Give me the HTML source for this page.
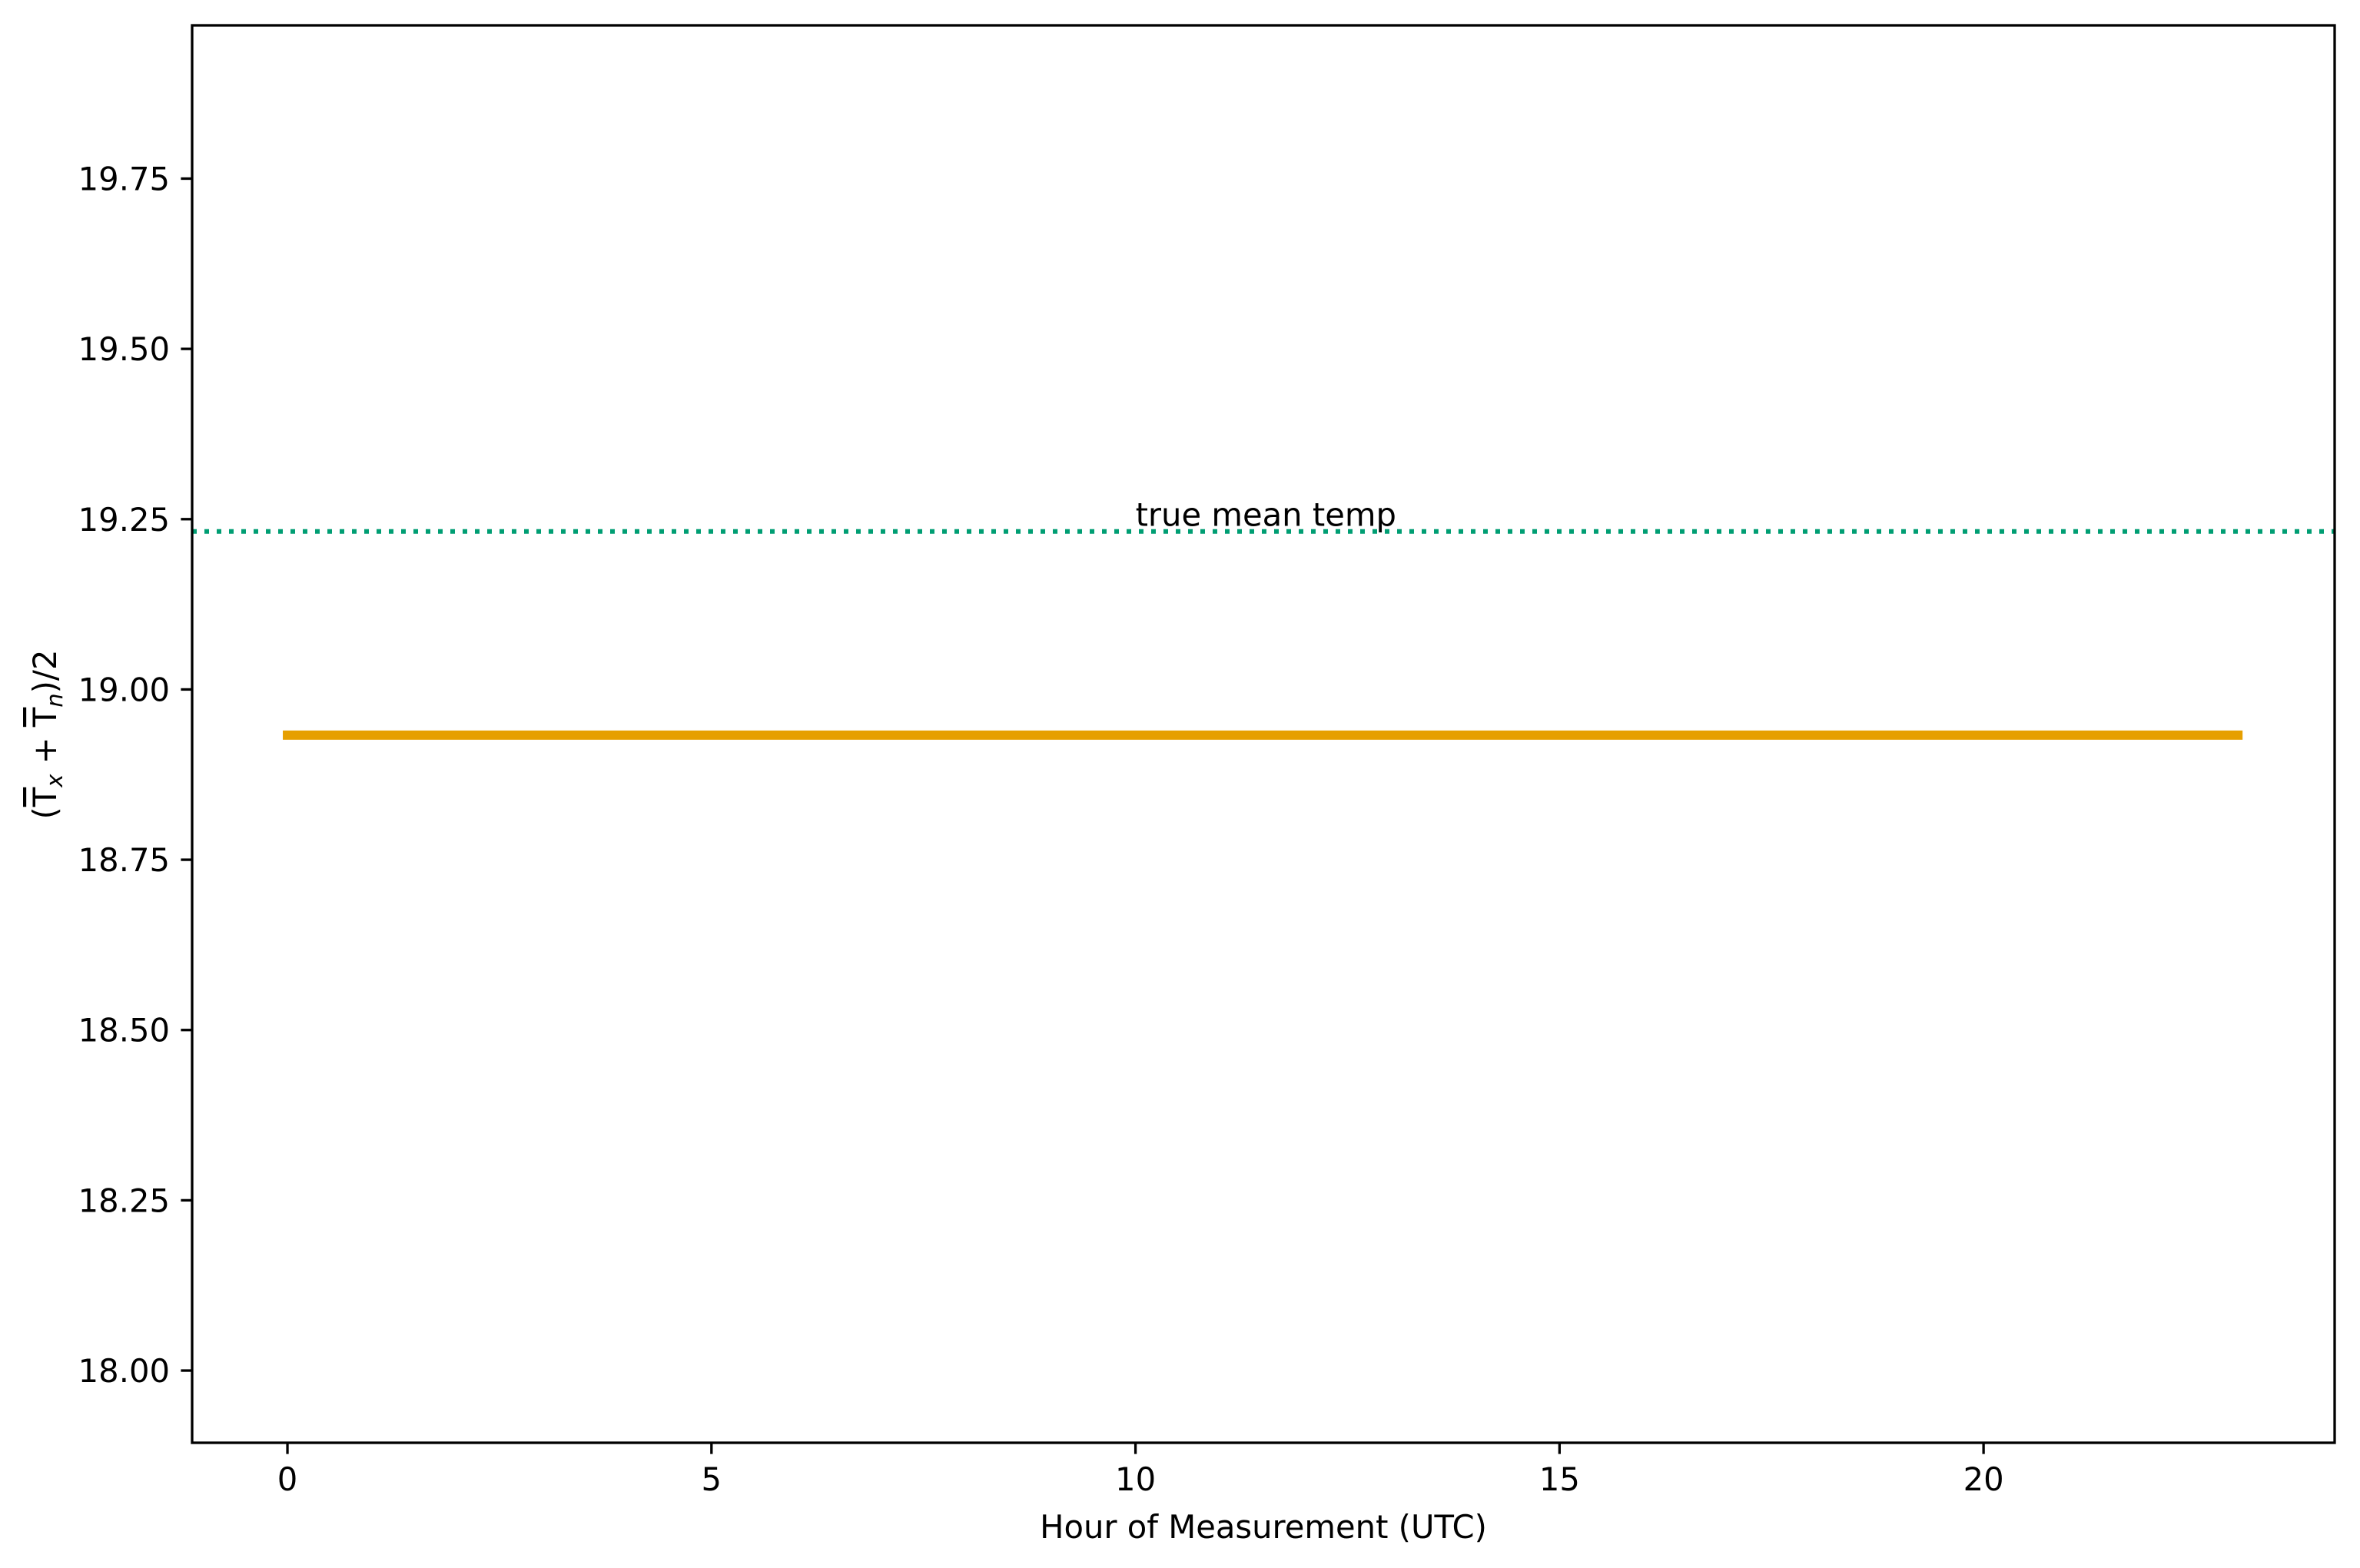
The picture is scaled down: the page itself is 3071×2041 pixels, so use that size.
<!DOCTYPE html>
<html><head><meta charset="utf-8"><style>
html,body{margin:0;padding:0;background:#fff;}
svg{display:block;font-family:"DejaVu Sans","Liberation Sans",sans-serif;}
</style></head><body>
<svg id="chart" width="3071" height="2041" viewBox="0 0 3071 2041" xmlns="http://www.w3.org/2000/svg">
<rect x="0" y="0" width="3071" height="2041" fill="#fff"/>
<g id="plot"></g>
<g id="axes"></g>
</svg>
<script>
const xTicks = [0, 5, 10, 15, 20];
const yTicks = [18.00, 18.25, 18.50, 18.75, 19.00, 19.25, 19.50, 19.75];
const hours = [0,1,2,3,4,5,6,7,8,9,10,11,12,13,14,15,16,17,18,19,20,21,22,23];
const meanValues = [18.933,18.933,18.933,18.933,18.933,18.933,18.933,18.933,18.933,18.933,18.933,18.933,18.933,18.933,18.933,18.933,18.933,18.933,18.933,18.933,18.933,18.933,18.933,18.933];
const trueMean = [19.232];
const annotation = ["true mean temp"];
const annotationX = [10];

const L=250,R=3038,T=33,B=1878;
const xMin=-1.124,xMax=24.14,yMin=17.894,yMax=19.975;
const sx=v=>L+(v-xMin)/(xMax-xMin)*(R-L);
const sy=v=>B-(v-yMin)/(yMax-yMin)*(B-T);
const NS="http://www.w3.org/2000/svg";
const plot=document.getElementById('plot'), axes=document.getElementById('axes');
function mk(tag,attrs,parent){const e=document.createElementNS(NS,tag);for(const k in attrs)e.setAttribute(k,attrs[k]);parent.appendChild(e);return e;}

const gl=mk('line',{x1:L,x2:R,y1:sy(trueMean[0]),y2:sy(trueMean[0]),stroke:'#009e73','stroke-width':6,'stroke-dasharray':'6 10'},plot);


const at=mk('text',{x:sx(annotationX[0]),y:sy(trueMean[0])-7,'font-size':41.7,fill:'#000'},plot);
at.textContent=annotation[0];



let d='';hours.forEach((h,i)=>{d+=(i?'L':'M')+sx(h)+' '+sy(meanValues[i]);});
const ml=mk('path',{d:d,fill:'none',stroke:'#e69f00','stroke-width':12,'stroke-linecap':'square'},plot);



const sp=mk('rect',{x:L,y:T,width:R-L,height:B-T,fill:'none',stroke:'#000','stroke-width':3.3},axes);



xTicks.forEach(v=>{
  const t=mk('line',{x1:sx(v),x2:sx(v),y1:B,y2:B+14.6,stroke:'#000','stroke-width':3.3},axes);
  
  
  const l=mk('text',{x:sx(v),y:B+62,'font-size':41.7,'text-anchor':'middle',fill:'#000'},axes);
  l.textContent=String(v);
  
  
});
yTicks.forEach(v=>{
  const t=mk('line',{x1:L-14.6,x2:L,y1:sy(v),y2:sy(v),stroke:'#000','stroke-width':3.3},axes);
  
  
  const l=mk('text',{x:L-29,y:sy(v)+15,'font-size':41.7,'text-anchor':'end',fill:'#000'},axes);
  l.textContent=v.toFixed(2);
  
  
});
const xl=mk('text',{x:(L+R)/2,y:2002,'font-size':41.7,'text-anchor':'middle',fill:'#000'},axes);
xl.textContent='Hour of Measurement (UTC)';



const yl=mk('text',{x:0,y:0,'font-size':41.7,'text-anchor':'middle',fill:'#000',transform:'translate(73,956) rotate(-90)'},axes);


yl.innerHTML='(<tspan text-decoration="overline">T</tspan><tspan font-style="italic" font-size="29" dy="8">x</tspan><tspan dy="-8"> + </tspan><tspan text-decoration="overline">T</tspan><tspan font-style="italic" font-size="29" dy="8">n</tspan><tspan dy="-8">)/2</tspan>';
</script>
</body></html>
